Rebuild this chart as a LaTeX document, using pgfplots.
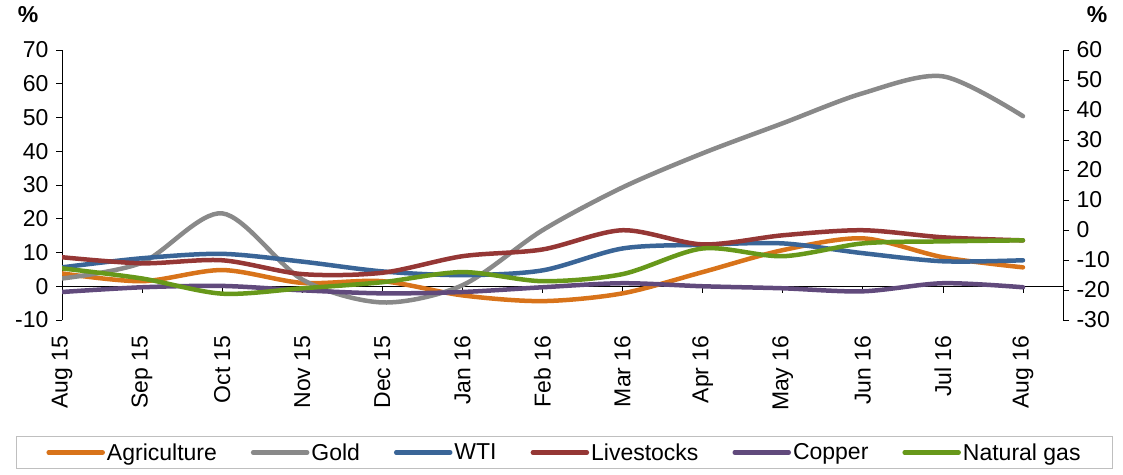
\documentclass[border=0pt]{standalone}
\usepackage{fontspec}
\setmainfont{Liberation Sans}
\usepackage{pgfplots}
\pgfplotsset{compat=1.18}

\definecolor{cAgri}{HTML}{D8731A}
\definecolor{cGold}{HTML}{898989}
\definecolor{cWTI}{HTML}{3A6597}
\definecolor{cLive}{HTML}{953735}
\definecolor{cCopper}{HTML}{614A7C}
\definecolor{cGas}{HTML}{67981A}

\newcommand{\bigfont}{\fontsize{23pt}{25pt}\selectfont}

\pgfplotsset{
  base/.style={
    scale only axis, width=1001pt, height=270pt,
    xmin=0, xmax=12.5,
    tick align=outside, major tick length=6pt,
    every tick/.style={black, line width=0.8pt},
    axis line style={black, line width=0.8pt},
    tick label style={font=\bigfont},
    /pgf/number format/assume math mode=true,
  },
  ser/.style={line width=4.5pt, line cap=round, smooth, tension=0.5},
}

\begin{document}
\begin{tikzpicture}
\useasboundingbox (0pt,0pt) rectangle (1123pt,-474pt);

\begin{axis}[
  base,
  at={(62pt,-320pt)}, anchor=south west,
  ymin=-10, ymax=70, ytick distance=10,
  axis y line*=left,
  axis x line*=bottom,
  x axis line style={draw=none},
  xtick={0,...,12},
  xticklabels={Aug 15,Sep 15,Oct 15,Nov 15,Dec 15,Jan 16,Feb 16,Mar 16,Apr 16,May 16,Jun 16,Jul 16,Aug 16},
  xtick style={draw=none},
  xticklabel style={rotate=90, anchor=east},
  xticklabel shift=6pt,
  yticklabel shift=4pt,
  extra y ticks={0},
  extra y tick labels={},
  extra y tick style={grid=major, major grid style={black, line width=0.8pt}},
  legend columns=6,
  legend style={
    at={(0.502,-0.4907)}, anchor=center,
    draw=black!25, line width=1.2pt,
    font=\bigfont,
    inner xsep=30pt, inner ysep=5pt,
    nodes={inner xsep=2pt},
    /tikz/every even column/.append style={column sep=32pt},
  },
  legend image code/.code={\draw[#1] (0pt,0pt) -- (54pt,0pt);},
]
\pgfplotsinvokeforeach{1,...,12}{\draw[black, line width=0.8pt] (axis cs:#1,0) -- ++(0pt,-7pt);}

\addplot[ser, cAgri] coordinates {(0,3.8) (1,1.5) (2,4.8) (3,1.0) (4,1.5) (5,-2.7) (6,-4.4) (7,-2.1) (8,4.2) (9,10.7) (10,14.2) (11,8.6) (12,5.6)};
\addplot[ser, cGold] coordinates {(0,2.3) (1,7.0) (2,21.6) (3,2.0) (4,-4.8) (5,0.3) (6,16.6) (7,29.3) (8,39.4) (9,48.3) (10,57.2) (11,62.2) (12,50.4)};
\addplot[ser, cWTI] coordinates {(0,5.6) (1,8.3) (2,9.6) (3,7.3) (4,4.4) (5,3.3) (6,4.7) (7,11.2) (8,12.3) (9,12.7) (10,9.8) (11,7.4) (12,7.7)};
\addplot[ser, cLive] coordinates {(0,8.6) (1,6.8) (2,7.7) (3,3.6) (4,4.0) (5,8.9) (6,10.9) (7,16.6) (8,12.4) (9,15.1) (10,16.6) (11,14.5) (12,13.6)};
\addplot[ser, cCopper] coordinates {(0,-1.7) (1,-0.3) (2,0.1) (3,-1.2) (4,-2.1) (5,-1.7) (6,-0.3) (7,0.9) (8,0.0) (9,-0.6) (10,-1.5) (11,0.9) (12,-0.3)};
\addplot[ser, cGas] coordinates {(0,5.3) (1,2.3) (2,-2.2) (3,-0.6) (4,1.2) (5,4.2) (6,1.5) (7,3.6) (8,11.2) (9,8.9) (10,12.7) (11,13.3) (12,13.6)};
\legend{Agriculture, Gold, WTI, Livestocks, Copper, Natural gas}
\end{axis}

\begin{axis}[
  base,
  at={(62pt,-320pt)}, anchor=south west,
  ymin=-30, ymax=60, ytick distance=10,
  axis y line*=right,
  axis x line=none,
  yticklabel shift=4pt,
]
\end{axis}

\node[font=\bfseries\bigfont] at (28pt,-15pt) {\%};
\node[font=\bfseries\bigfont] at (1097pt,-15pt) {\%};
\end{tikzpicture}
\end{document}
